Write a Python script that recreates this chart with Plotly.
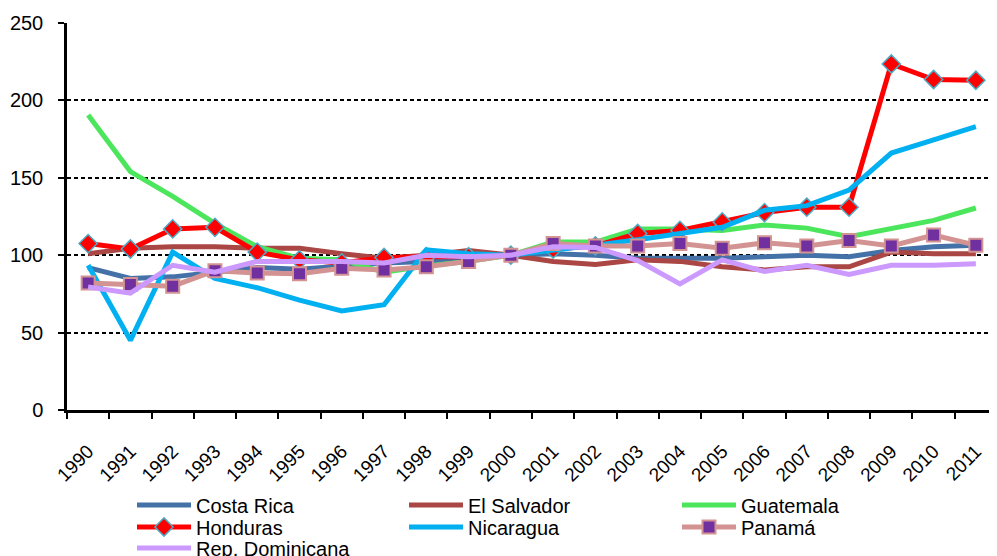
import plotly.graph_objects as go

years = [str(y) for y in range(1990, 2012)]

costa_rica = [92, 85, 86, 89, 92, 91, 93, 95, 96, 98, 100, 101, 100, 98, 98, 98, 99, 100, 99, 103, 105.5, 106.5]
el_salvador = [101, 104.5, 105.5, 105.5, 104.5, 104.5, 101, 98, 100, 103, 100, 96, 94, 97, 96, 92.5, 90.5, 92.5, 92.5, 102, 101, 101]
guatemala = [190.5, 154, 138, 120.5, 105.5, 98, 97, 89, 93, 96, 100, 108.5, 108.5, 117, 117, 116, 119.5, 117.5, 112, 117.5, 122.5, 130.5]
honduras = [107.5, 104, 117, 118, 102, 97, 95, 98.5, 99, 99, 100, 104, 106, 114, 116, 121.5, 127.5, 131, 131, 223.5, 213.5, 213]
nicaragua = [93.5, 45, 102, 85, 79, 71, 64, 68, 103.5, 101, 100, 103, 106.5, 110, 114, 118, 129, 132, 142, 166, 174.5, 183]
panama = [82, 81, 80, 90, 88.5, 88, 91.5, 90.5, 92.5, 96, 100, 107.5, 106, 106, 107.5, 104.5, 108, 106, 109.5, 106, 113, 106.5]
rep_dominicana = [79.5, 75.5, 93.5, 89, 96, 96, 96, 95, 100, 99, 100, 105.5, 105, 96.5, 81.5, 97, 89.5, 93.5, 87.5, 93.5, 93.5, 94.5]

# page body has an 8px margin, so the figure is sized to end at the window edge
W, H = 989, 548
ML, MT, MB = 59, 15, 146
PW, PH = W - ML, H - MT - MB

fig = go.Figure()

# one legend per series so the three-column grid can be placed exactly
legend_cols = [132, 404, 677]
legend_rows = [497, 519, 540]
legends = {}

def add_line(i, name, vals, color, marker=None):
    key = f"legend{i + 2}"
    kw = dict(x=years, y=vals, name=name, legend=key, showlegend=True,
              line=dict(color=color, width=5))
    if marker:
        kw["mode"] = "lines+markers"
        kw["marker"] = marker
    else:
        kw["mode"] = "lines"
    fig.add_trace(go.Scatter(**kw))
    lx = legend_cols[i % 3] - 8
    ly = legend_rows[i // 3]
    legends[key] = dict(
        x=(lx - ML) / PW, xanchor="left",
        y=(H - MB - ly) / PH, yanchor="middle",
        itemwidth=54, bgcolor="rgba(0,0,0,0)",
        font=dict(family="Liberation Sans, Arial", size=20, color="#000000"),
    )

add_line(0, "Costa Rica", costa_rica, "#4472A8")
add_line(1, "El Salvador", el_salvador, "#AA4643")
add_line(2, "Guatemala", guatemala, "#4CE65C")
add_line(3, "Honduras", honduras, "#FF0000",
         dict(symbol="diamond", size=14, color="#FF0000", line=dict(color="#4BACC6", width=1.5)))
add_line(4, "Nicaragua", nicaragua, "#00B0F0")
add_line(5, "Panamá", panama, "#D39392",
         dict(symbol="square", size=13, color="#7030A0", line=dict(color="#D39392", width=2)))
add_line(6, "Rep. Dominicana", rep_dominicana, "#CC99FF")

fig.update_layout(
    width=W, height=H, showlegend=True,
    margin=dict(l=ML, r=0, t=MT, b=MB, autoexpand=False),
    plot_bgcolor="#FFFFFF", paper_bgcolor="#FFFFFF",
    font=dict(family="Liberation Sans, Arial", size=20, color="#000000"),
    xaxis=dict(
        type="category", range=[-0.5, 21.5], tickangle=-45, tickson="boundaries",
        automargin=False, ticklabelstandoff=20,
        ticks="outside", ticklen=6, tickwidth=1.5, tickcolor="#000000",
        showline=True, linecolor="#000000", linewidth=2.5,
        showgrid=False, tickfont=dict(size=19),
    ),
    yaxis=dict(
        range=[0, 250], tickvals=[0, 50, 100, 150, 200, 250], automargin=False,
        ticks="outside", ticklen=6, tickwidth=1.5, tickcolor="#000000",
        ticklabelstandoff=11,
        showline=True, linecolor="#000000", linewidth=2.5,
        showgrid=True, gridcolor="#000000", gridwidth=1.5, griddash="4px,3px",
        zeroline=False, tickfont=dict(size=20),
    ),
    **legends,
)

fig.write_html("out.html")
